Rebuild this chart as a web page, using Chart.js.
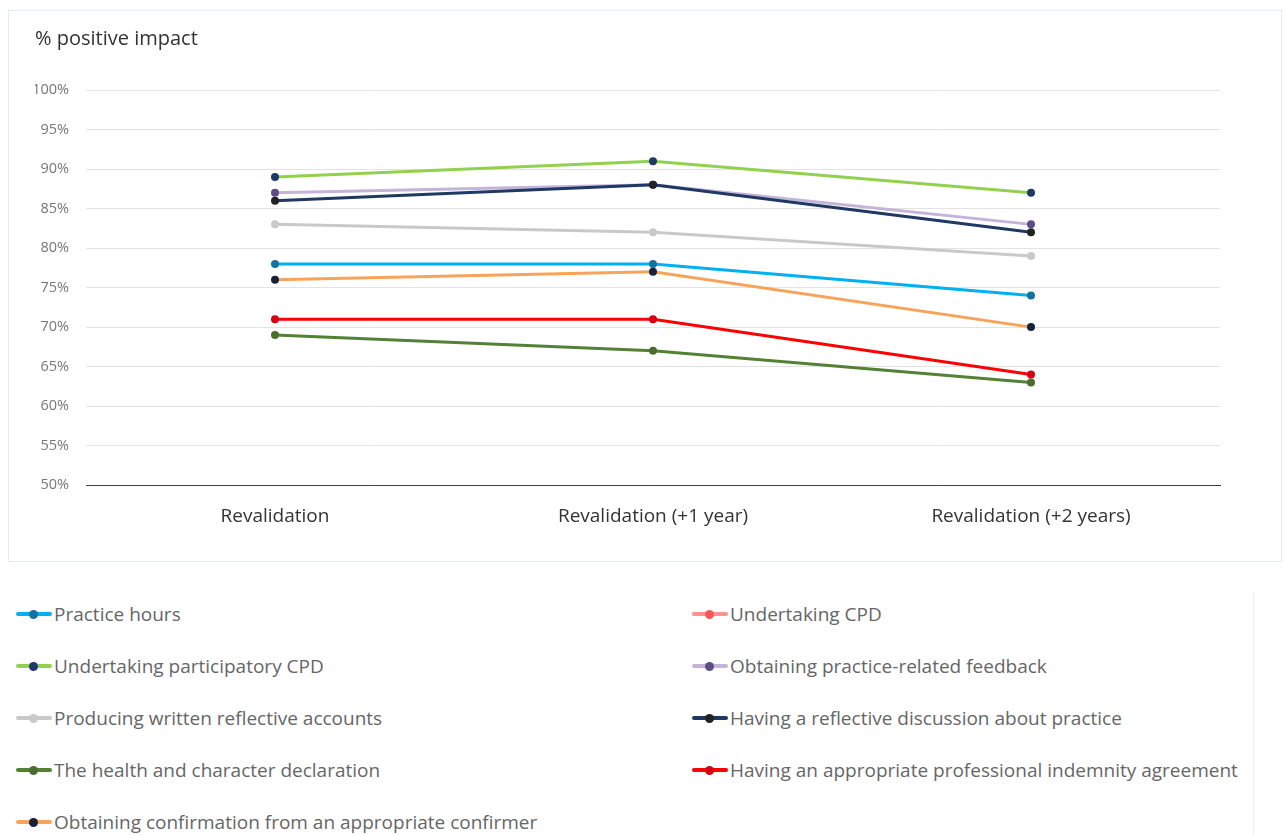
<!DOCTYPE html>
<html>
<head>
<meta charset="utf-8">
<script src="https://cdn.jsdelivr.net/npm/chart.js@4/dist/chart.umd.min.js"></script>
<style>
  html, body { margin: 0; padding: 0; background: #ffffff; }
  body { width: 1285px; height: 835px; position: relative; overflow: hidden; font-family: "Open Sans", "Noto Sans", sans-serif; }
  #card { position: absolute; left: 8px; top: 10px; width: 1274px; height: 552px; border: 1px solid #e2ecf1; box-sizing: border-box; }
  #card canvas { display: block; }
  #legend { position: absolute; left: 0; top: 592px; width: 1253px; height: 243px; border-right: 1px solid #e6eef2; }
  .item { position: absolute; height: 24px; display: flex; align-items: center; white-space: nowrap; color: #666666; font-size: 19px; }
  .sym { position: relative; width: 36px; height: 24px; margin-right: 2px; }
  .sym .ln { position: absolute; left: 0; top: 10px; width: 36px; height: 4px; border-radius: 2px; }
  .sym .dt { position: absolute; left: 13px; top: 7.5px; width: 9px; height: 9px; border-radius: 50%; }
</style>
</head>
<body>
<div id="card"><canvas id="chart" width="1272" height="550"></canvas></div>
<div id="legend"></div>
<script>
// Survey periods on the x axis
const periods = ['Revalidation', 'Revalidation (+1 year)', 'Revalidation (+2 years)'];

// Requirement names (legend order)
const seriesNames = [
  'Practice hours',
  'Undertaking CPD',
  'Undertaking participatory CPD',
  'Obtaining practice-related feedback',
  'Producing written reflective accounts',
  'Having a reflective discussion about practice',
  'The health and character declaration',
  'Having an appropriate professional indemnity agreement',
  'Obtaining confirmation from an appropriate confirmer'
];

// % positive impact per requirement and period
const practiceHours        = [78, 78, 74];
const undertakingCpd       = [null, null, null];
const participatoryCpd     = [89, 91, 87];
const practiceFeedback     = [87, 88, 83];
const reflectiveAccounts   = [83, 82, 79];
const reflectiveDiscussion = [86, 88, 82];
const healthCharacter      = [69, 67, 63];
const indemnityAgreement   = [71, 71, 64];
const confirmation         = [76, 77, 70];

const seriesValues = [
  practiceHours, undertakingCpd, participatoryCpd, practiceFeedback,
  reflectiveAccounts, reflectiveDiscussion, healthCharacter,
  indemnityAgreement, confirmation
];

// Line colour and marker colour for each requirement
const lineColors  = ['#00b0f0', '#ff9191', '#92d050', '#c3b4da', '#c9c9c9', '#1f3864', '#548235', '#ff0000', '#f8a35a'];
const pointColors = ['#13739c', '#f25a5a', '#1f3864', '#5e4b8a', '#c9c9c9', '#222222', '#4b6e30', '#d40012', '#16213a'];

// Y axis range and tick step (percent)
const yMin = 50, yMax = 100, yStep = 5;

const fontFamily = '"Open Sans", "Noto Sans", sans-serif';

const datasets = seriesNames.map((name, i) => ({
  label: name,
  data: seriesValues[i],
  borderColor: lineColors[i],
  backgroundColor: pointColors[i],
  pointBackgroundColor: pointColors[i],
  pointBorderColor: pointColors[i],
  borderWidth: 3,
  pointRadius: 4,
  pointBorderWidth: 0,
  tension: 0,
  fill: false,
  order: seriesNames.length - i
}));

new Chart(document.getElementById('chart'), {
  type: 'line',
  data: { labels: periods, datasets: datasets },
  options: {
    responsive: false,
    maintainAspectRatio: false,
    animation: false,
    layout: { padding: { top: 5, left: 26, right: 61, bottom: 13 } },
    plugins: {
      legend: { display: false },
      tooltip: { enabled: false },
      title: {
        display: true,
        text: '% positive impact',
        align: 'start',
        color: '#333333',
        font: { family: fontFamily, size: 20, weight: 'normal' },
        padding: { top: 11, bottom: 39 }
      }
    },
    scales: {
      x: {
        offset: true,
        grid: { display: false, drawTicks: false },
        border: { display: true, color: '#404040', width: 1 },
        ticks: {
          color: '#333333',
          padding: 20,
          maxRotation: 0,
          font: { family: fontFamily, size: 19 }
        }
      },
      y: {
        min: yMin,
        max: yMax,
        grid: { color: '#e3e3e3', lineWidth: 1, drawTicks: false },
        border: { display: false },
        afterFit: (axis) => { axis.width = 51; },
        ticks: {
          stepSize: yStep,
          color: '#777777',
          padding: 17,
          font: { family: fontFamily, size: 14.5 },
          callback: (v) => v + '%'
        }
      }
    }
  }
});

// Two-column legend below the chart card
const legend = document.getElementById('legend');
seriesNames.forEach((name, i) => {
  const col = i % 2, row = Math.floor(i / 2);
  const item = document.createElement('div');
  item.className = 'item';
  item.style.left = (col === 0 ? 16 : 692) + 'px';
  item.style.top = (10 + row * 52) + 'px';
  const sym = document.createElement('div');
  sym.className = 'sym';
  const ln = document.createElement('div');
  ln.className = 'ln';
  ln.style.background = lineColors[i];
  const dt = document.createElement('div');
  dt.className = 'dt';
  dt.style.background = pointColors[i];
  sym.appendChild(ln);
  sym.appendChild(dt);
  const txt = document.createElement('span');
  txt.textContent = name;
  item.appendChild(sym);
  item.appendChild(txt);
  legend.appendChild(item);
});
</script>
</body>
</html>
